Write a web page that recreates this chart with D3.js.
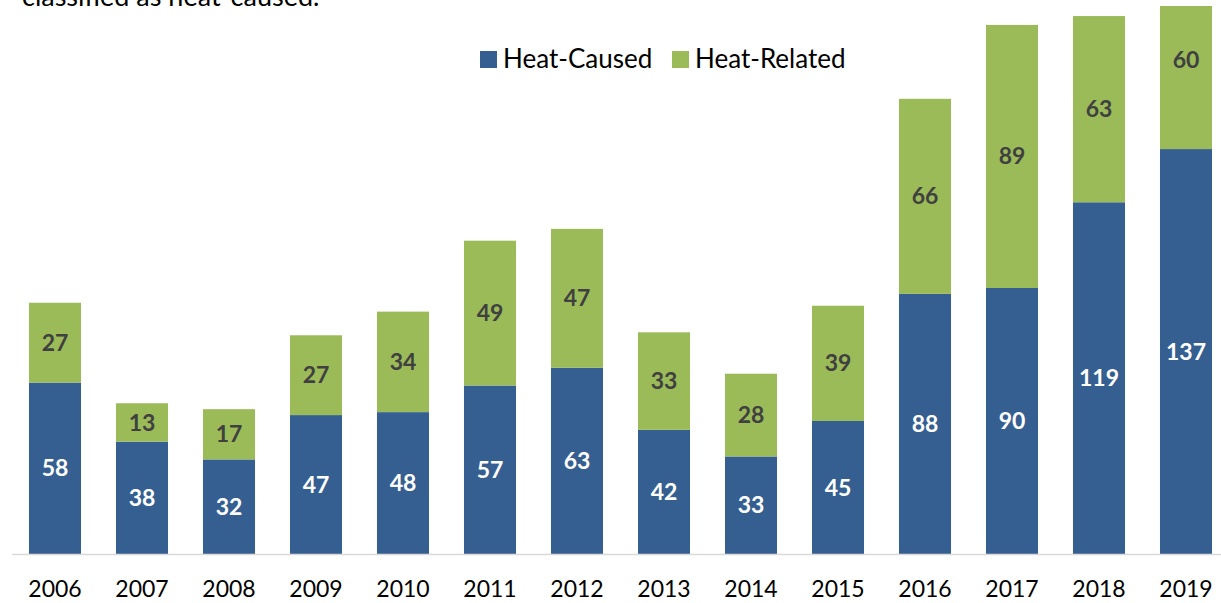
<!DOCTYPE html>
<html>
<head>
<meta charset="utf-8">
<script src="https://cdn.jsdelivr.net/npm/d3@7"></script>
<style>
  body { margin: 0; background: #fff; }
  svg { display: block; font-family: Lato, "Open Sans", sans-serif; }
</style>
</head>
<body>
<svg id="chart" width="1221" height="603"></svg>
<script>
var years = ["2006","2007","2008","2009","2010","2011","2012","2013","2014","2015","2016","2017","2018","2019"];
var heatCaused = [58, 38, 32, 47, 48, 57, 63, 42, 33, 45, 88, 90, 119, 137];
var heatRelated = [27, 13, 17, 27, 34, 49, 47, 33, 28, 39, 66, 89, 63, 60];
var seriesNames = ["Heat-Caused", "Heat-Related"];
var colors = ["#365f91", "#9bbb59"];
var labelColors = ["#ffffff", "#404040"];

var svg = d3.select("#chart");
var plot_top = 6, plot_bottom = 554;

var x_scale = d3.scaleBand().domain(years).range([11.5, 1229.5])
    .paddingInner(0.402).paddingOuter(0.201);
var y_scale = d3.scaleLinear().domain([0, 185.4]).range([plot_bottom, plot_top]);

// clip so the tallest bar is cut at the plot top like the original
svg.append("clipPath").attr("id", "plotclip")
    .append("rect").attr("x", 0).attr("y", plot_top).attr("width", 1221).attr("height", plot_bottom - plot_top);

// title fragment cut off at the top (as in the original)
svg.append("text").attr("x", 22).attr("y", 6)
    .style("font-size", "27px").style("fill", "#000")
    .text("classified as heat-caused.");

var rows = years.map(function(y, i) {
    return {year: y, caused: heatCaused[i], related: heatRelated[i]};
});
var stacked = d3.stack().keys(["caused", "related"])(rows);

var g = svg.append("g").attr("clip-path", "url(#plotclip)");
stacked.forEach(function(layer, li) {
    g.selectAll(null)
        .data(layer)
        .enter()
        .append("rect")
        .attr("x", function(d) { return x_scale(d.data.year); })
        .attr("y", function(d) { return y_scale(d[1]); })
        .attr("width", x_scale.bandwidth())
        .attr("height", function(d) { return y_scale(d[0]) - y_scale(d[1]); })
        .style("fill", colors[li]);
});

// data labels, centred in each (unclipped) segment
stacked.forEach(function(layer, li) {
    svg.selectAll(null)
        .data(layer)
        .enter()
        .append("text")
        .attr("x", function(d) { return x_scale(d.data.year) + x_scale.bandwidth() / 2; })
        .attr("y", function(d) { return (y_scale(d[1]) + y_scale(d[0])) / 2; })
        .attr("dy", "0.35em")
        .attr("text-anchor", "middle")
        .style("font-size", "23px")
        .style("font-weight", "bold")
        .style("fill", labelColors[li])
        .text(function(d) { return d[1] - d[0]; });
});

// axis
var x_axis = d3.axisBottom(x_scale).tickSize(0).tickPadding(27);
var ax = svg.append("g").attr("transform", "translate(0," + plot_bottom + ")").call(x_axis);
ax.select(".domain").remove();
ax.selectAll("text").style("font-size", "23px").style("fill", "#000")
    .style("font-family", "Lato, 'Open Sans', sans-serif");
svg.append("line").attr("x1", 12).attr("x2", 1221)
    .attr("y1", plot_bottom + 0.5).attr("y2", plot_bottom + 0.5)
    .style("stroke", "#d9d9d9").style("stroke-width", 1.5);

// legend
var legend_x = [480, 672];
var legend = svg.selectAll(".legend").data(seriesNames).enter().append("g")
    .attr("transform", function(d, i) { return "translate(" + legend_x[i] + ",51)"; });
legend.append("rect").attr("width", 17).attr("height", 17)
    .style("fill", function(d, i) { return colors[i]; });
legend.append("text").attr("x", 23).attr("y", 17)
    .style("font-size", "26px").style("fill", "#000")
    .text(function(d) { return d; });
</script>
</body>
</html>
